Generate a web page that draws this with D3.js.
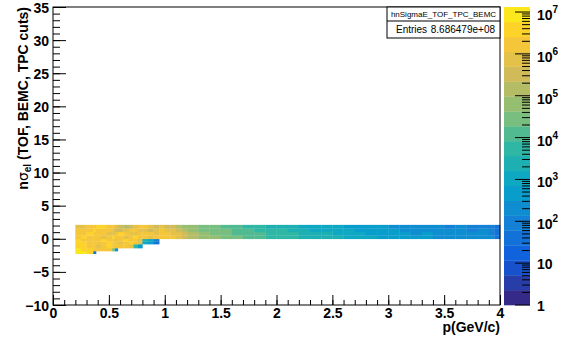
<!DOCTYPE html>
<html><head><meta charset="utf-8">
<script src="https://cdn.jsdelivr.net/npm/d3@7"></script>
<style>body{margin:0;background:#fff} text{font-family:"Liberation Sans",Arial,sans-serif}</style>
</head><body><svg id="c" width="565" height="339"></svg>
<script>
// ---------------- data ----------------
const histTitle = "hnSigmaE_TOF_TPC_BEMC";
const entriesLabel = "Entries";
const entriesValue = "8.686479e+08";
const xTitle = "p(GeV/c)";
// momentum bin edges (GeV/c)
const pEdges = [0.20,0.25,0.30,0.36,0.385,0.43,0.48,0.53,0.555,0.58,0.63,0.68,0.72,0.76,0.80,0.85,0.90,0.95,1.00,1.05,1.10,1.15,1.20,1.30,1.40,1.50,1.60,1.70,1.80,1.90,2.00,2.10,2.20,2.30,2.40,2.50,2.60,2.70,2.80,2.90,3.00,3.10,3.20,3.30,3.40,3.50,3.60,3.70,3.80,3.90,3.95,4.00];
// n sigma bin edges
const nsEdges = [-2.25,-1.85,-1.4,-0.8,-0.4,0,0.525,1.05,1.575,2.1];
// log10(counts) per cell, one row per n-sigma bin (bottom to top); missing = empty
const logCountRows = [
  "6.8 6.8 6.6 1.6",
  "6.8 6.6 6.6 6.2 6.2 6.2 6.2 4.4 2.2",
  "6.6 6.6 6.2 6.2 5.8 6.2 6.6 6.2 6.2 6.2 6.2 5.8 3.8 2.6",
  "6.6 6.6 6.2 6.2 6.2 6.2 6.6 6.2 6.2 5.8 6.2 6.6 6.2 5.8 3.0 2.6 1.6",
  "6.6 6.2 6.2 6.2 6.2 6.6 6.2 6.2 5.8 6.2 6.6 6.2 6.2 5.8 3.4 3.0 2.0",
  "6.2 6.6 6.2 6.2 6.2 5.8 6.2 6.6 6.2 6.2 5.8 6.2 6.6 6.2 6.2 5.8 6.2 6.2 6.2 6.2 5.8 5.4 5.2 4.8 4.8 4.4 4.4 4.0 4.0 3.8 3.8 3.8 3.4 3.4 3.4 3.4 3.0 3.0 3.0 2.6 2.6 2.6 2.6 2.6 2.2 2.2 2.2 2.2 2.2 2.2 1.6",
  "6.2 6.2 6.6 6.2 6.2 6.2 5.8 5.8 6.2 6.6 6.2 5.8 5.8 6.2 6.2 6.2 5.8 6.2 6.2 5.8 5.8 5.4 5.2 4.8 4.4 4.4 4.0 4.0 4.0 3.8 3.8 3.8 3.4 3.4 3.4 3.0 3.0 3.0 2.6 2.6 2.6 2.6 2.2 2.6 2.2 2.2 2.2 2.2 2.2 2.0 1.6",
  "6.2 6.2 6.2 6.6 6.2 6.2 6.2 5.8 5.4 5.4 5.8 6.2 6.2 5.8 5.8 5.4 5.8 6.2 5.8 5.8 5.4 5.2 4.8 4.4 4.4 4.4 4.0 4.0 3.8 3.8 3.8 3.4 3.4 3.0 3.0 3.0 3.0 2.6 2.6 2.6 2.6 2.2 2.2 2.2 2.2 2.2 2.2 2.0 2.2 2.0 1.6",
  "5.8 5.8 6.2 6.2 6.6 6.6 6.2 6.2 5.8 5.4 5.2 5.4 5.8 6.2 6.2 5.8 5.4 5.8 5.4 5.4 5.2 4.8 4.8 4.4 4.4 4.0 4.0 3.8 3.8 3.4 3.4 3.4 3.0 3.0 3.0 3.0 2.6 2.6 2.6 2.6 2.2 2.2 2.2 2.2 2.2 2.0 2.2 2.0 2.0 2.0 1.6"
];
const xTickLabels = ["0","0.5","1","1.5","2","2.5","3","3.5","4"];
const xTickValues = [0,0.5,1,1.5,2,2.5,3,3.5,4];
const yTickValues = [-10,-5,0,5,10,15,20,25,30,35];
const zMin = 1, zMax = 1.32e7, nContours = 20;
const zTickExps = [0,1,2,3,4,5,6,7];

// ---------------- drawing ----------------
const svg = d3.select("#c");
const L = 53, R = 500, T = 7, B = 305;
const x = d3.scaleLinear().domain([0,4]).range([L,R]);
const y = d3.scaleLinear().domain([-10,35]).range([B,T]);
const z = d3.scaleLog().domain([zMin,zMax]).range([B,T]);

// ROOT kBird palette
const st = [0,0.125,0.25,0.375,0.5,0.625,0.75,0.875,1];
const rr = [0.2082,0.0592,0.0780,0.0232,0.1802,0.5301,0.8186,0.9956,0.9764];
const gg = [0.1664,0.3599,0.5041,0.6419,0.7178,0.7492,0.7328,0.7862,0.9832];
const bb = [0.5293,0.8684,0.8385,0.7914,0.6425,0.4662,0.3499,0.1968,0.0539];
const bird = d3.scaleLinear().domain(st).range(st.map((s,i)=>d3.rgb(rr[i]*255,gg[i]*255,bb[i]*255))).interpolate(d3.interpolateRgb);
const bandColor = k => bird(Math.floor(0.01 + k*255/nContours)/254);
const lzMax = Math.log10(zMax), lzMin = Math.log10(zMin);
const colorOf = lv => {
  let k = Math.floor((lv - lzMin)/(lzMax-lzMin)*nContours);
  k = Math.max(0, Math.min(nContours-1, k));
  return bandColor(k);
};

const cells = [];
logCountRows.forEach((row,i)=>{
  row.trim().split(/\s+/).forEach((tok,j)=>{
    if (tok === "." ) return;
    cells.push({p0:pEdges[j],p1:pEdges[j+1],n0:nsEdges[i],n1:nsEdges[i+1],v:+tok});
  });
});
svg.append("g").selectAll("rect").data(cells).join("rect")
  .attr("x",d=>x(d.p0)).attr("width",d=>x(d.p1)-x(d.p0)+0.3)
  .attr("y",d=>y(d.n1)).attr("height",d=>y(d.n0)-y(d.n1)+0.3)
  .attr("fill",d=>colorOf(d.v));

// frame
svg.append("rect").attr("x",L).attr("y",T).attr("width",R-L).attr("height",B-T)
  .attr("fill","none").attr("stroke","#000").attr("stroke-width",1);

const font = "bold 14px 'Liberation Sans', Arial, sans-serif";
// Y axis
const yMinor = d3.range(-10,35.01,1);
const gyMinor = svg.append("g").attr("transform",`translate(${L},0)`)
  .call(d3.axisLeft(y).tickValues(yMinor).tickSize(-7).tickSizeOuter(0).tickFormat(""));
const gy = svg.append("g").attr("transform",`translate(${L},0)`)
  .call(d3.axisLeft(y).tickValues(yTickValues).tickSize(-13).tickSizeOuter(0).tickPadding(4)
    .tickFormat(d=> d<0 ? "\u2212"+Math.abs(d) : String(d)));
// X axis
const xMinor = d3.range(0,4.001,0.1);
const gxMinor = svg.append("g").attr("transform",`translate(0,${B})`)
  .call(d3.axisBottom(x).tickValues(xMinor).tickSize(-5).tickSizeOuter(0).tickFormat(""));
const gx = svg.append("g").attr("transform",`translate(0,${B})`)
  .call(d3.axisBottom(x).tickValues(xTickValues).tickSize(-10).tickSizeOuter(0).tickPadding(3)
    .tickFormat((d,i)=>xTickLabels[i]));
[gy,gx,gyMinor,gxMinor].forEach(g=>{
  g.select(".domain").remove();
  g.selectAll("line").attr("stroke","#000");
  g.selectAll("text").style("font",font).attr("fill","#000");
});
gx.selectAll("text").attr("dy","0.71em");
gy.selectAll("text").attr("dy","0.36em");

// axis titles
svg.append("text").attr("x",R).attr("y",332).attr("text-anchor","end")
  .style("font",font).text(xTitle);
const yt = svg.append("text").attr("transform",`translate(28,${T}) rotate(-90)`)
  .attr("text-anchor","end").style("font",font);
yt.append("tspan").text("n");
yt.append("tspan").style("font","14px 'DejaVu Sans', sans-serif").text("\u03c3");
yt.append("tspan").attr("dy",3).style("font","bold 10px 'Liberation Sans', Arial, sans-serif").text("el");
yt.append("tspan").attr("dy",-3).text(" (TOF, BEMC, TPC cuts)");

// stats box
const sx0 = 387, sx1 = 500, sy0 = 7, sy1 = 38, sMid = 21;
svg.append("rect").attr("x",sx0).attr("y",sy0).attr("width",sx1-sx0).attr("height",sy1-sy0)
  .attr("fill","#fff").attr("stroke","#000").attr("stroke-width",1);
svg.append("line").attr("x1",sx0).attr("x2",sx1).attr("y1",sMid).attr("y2",sMid).attr("stroke","#000");
svg.append("text").attr("x",(sx0+sx1)/2).attr("y",17).attr("text-anchor","middle")
  .style("font","8px 'Liberation Sans', Arial, sans-serif").text(histTitle);
svg.append("text").attr("x",396).attr("y",33)
  .style("font","10px 'Liberation Sans', Arial, sans-serif").text(entriesLabel);
svg.append("text").attr("x",495).attr("y",33).attr("text-anchor","end")
  .style("font","10px 'Liberation Sans', Arial, sans-serif").text(entriesValue);

// palette
const PX0 = 504, PX1 = 530;
const bands = d3.range(nContours).map(k=>({k,
  lo: Math.pow(10, lzMin + (lzMax-lzMin)*k/nContours),
  hi: Math.pow(10, lzMin + (lzMax-lzMin)*(k+1)/nContours)}));
svg.append("g").selectAll("rect").data(bands).join("rect")
  .attr("x",PX0).attr("width",PX1-PX0)
  .attr("y",d=>z(d.hi)).attr("height",d=>z(d.lo)-z(d.hi)+0.3)
  .attr("fill",d=>bandColor(d.k));
const zMajor = zTickExps.map(e=>Math.pow(10,e));
const zMinorT = [];
zTickExps.forEach(e=>{ for(let m=2;m<=9;m++){ const v=m*Math.pow(10,e); if(v<=zMax) zMinorT.push(v);} });
svg.append("g").selectAll("line").data(zMinorT).join("line")
  .attr("x1",PX1-8).attr("x2",PX1).attr("y1",d=>z(d)).attr("y2",d=>z(d)).attr("stroke","#000");
svg.append("g").selectAll("line").data(zMajor).join("line")
  .attr("x1",PX1-15).attr("x2",PX1).attr("y1",d=>z(d)).attr("y2",d=>z(d)).attr("stroke","#000");
const zl = svg.append("g").selectAll("text").data(zTickExps).join("text")
  .attr("x",537).attr("y",e=>z(Math.pow(10,e))+ (e<2?6:8)).style("font",font);
zl.append("tspan").text(e=> e===0 ? "1" : "10");
zl.append("tspan").attr("dy",-7).style("font","bold 10px 'Liberation Sans', Arial, sans-serif")
  .text(e=> e>=2 ? String(e) : "");
</script></body></html>
